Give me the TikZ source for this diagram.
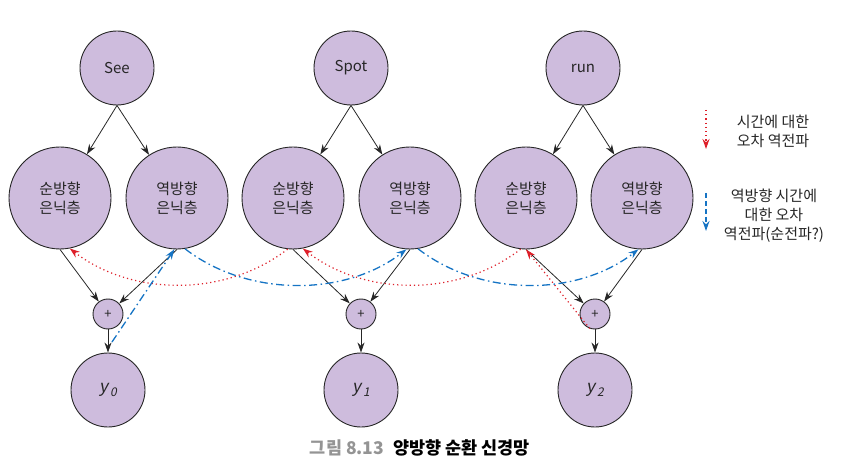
\documentclass[tikz,border=0pt]{standalone}
\usepackage{fontspec}
\setmainfont{Noto Sans CJK KR}
\newfontfamily\slfont[FakeSlant=0.2]{Noto Sans CJK KR}
\usetikzlibrary{arrows.meta}
\definecolor{cellfill}{RGB}{206,188,221}
\definecolor{errred}{RGB}{222,32,42}
\definecolor{errblue}{RGB}{22,116,196}
\newcommand{\outlabel}[1]{y\kern2.2pt\raisebox{-4pt}{\fontsize{12}{12}\selectfont #1}}
\begin{document}
\begin{tikzpicture}[x=1pt,y=-1pt,
    cell/.style={circle,draw=black!85,line width=0.9pt,fill=cellfill,inner sep=0pt,
        text=black!85,align=center,font=\fontsize{15}{19}\selectfont},
    wordcell/.style={cell,minimum size=74pt},
    hidcell/.style={cell,minimum size=102pt},
    sumcell/.style={cell,minimum size=30pt,font=\fontsize{13}{15}\selectfont},
    outcell/.style={cell,minimum size=74pt,font=\fontsize{17}{18}\selectfont\slfont},
    flow/.style={draw=black!85,line width=0.8pt,-{Stealth[length=10pt,width=7pt]}},
    backred/.style={draw=errred,line width=1.2pt,dash pattern=on 1.2pt off 3pt,
        -{Stealth[length=10pt,width=7pt]}},
    backblue/.style={draw=errblue,line width=1.3pt,dash pattern=on 8pt off 3.5pt on 1.5pt off 3.5pt,
        -{Stealth[length=10pt,width=7pt]}},
    legtext/.style={align=center,text=black!85,font=\fontsize{15}{19}\selectfont}]
    \useasboundingbox (0,0) rectangle (843,470);

    \node[wordcell] (see) at (117,68) {See};
    \node[wordcell] (spot) at (351,68) {Spot};
    \node[wordcell] (run) at (583,68) {run};

    \node[hidcell] (seefw) at (60,198) {순방향\\은닉층};
    \node[hidcell] (seebw) at (177,198) {역방향\\은닉층};
    \node[hidcell] (spotfw) at (293,198) {순방향\\은닉층};
    \node[hidcell] (spotbw) at (410,198) {역방향\\은닉층};
    \node[hidcell] (runfw) at (526,198) {순방향\\은닉층};
    \node[hidcell] (runbw) at (642,198) {역방향\\은닉층};

    \node[sumcell] (sum0) at (108,314) {+};
    \node[sumcell] (sum1) at (361,314) {+};
    \node[sumcell] (sum2) at (595,314) {+};

    \node[outcell] (y0) at (108,390) {\outlabel{0}};
    \node[outcell] (y1) at (361,390) {\outlabel{1}};
    \node[outcell] (y2) at (595,390) {\outlabel{2}};

    \foreach \w in {see,spot,run} {
        \draw[flow] (\w.south) -- (\w fw);
        \draw[flow] (\w.south) -- (\w bw);
    }
    \foreach \w/\s/\o in {see/sum0/y0,spot/sum1/y1,run/sum2/y2} {
        \draw[flow] (\w fw.south) -- (\s);
        \draw[flow] (\w bw.south) -- (\s);
        \draw[flow] (\s) -- (\o);
    }

    \draw[backred] (sum2.-110) -- (runfw.south);
    \draw[backred] (runfw.-96) .. controls +(-62,48) and +(62,48) .. (spotfw.-79);
    \draw[backred] (spotfw.-96) .. controls +(-62,48) and +(62,48) .. (seefw.-79);

    \coordinate (bluestart) at (112,342);
    \draw[backblue] (bluestart) -- (seebw.-93);
    \draw[backblue] (seebw.-81) .. controls +(62,48) and +(-62,48) .. (spotbw.-94);
    \draw[backblue] (spotbw.-81) .. controls +(62,48) and +(-62,48) .. (runbw.-94);

    \coordinate (redtop) at (706,110);
    \coordinate (redend) at (706,149);
    \coordinate (bluetop) at (706,193);
    \coordinate (blueend) at (706,231);
    \draw[backred] (redtop) -- (redend);
    \draw[backblue,dash pattern=on 5pt off 3pt] (bluetop) -- (blueend);
    \node[legtext] (redkey) at (773,131) {시간에 대한\\오차 역전파};
    \node[legtext] (bluekey) at (774,216) {역방향 시간에\\대한 오차\\역전파(순전파?)};

    \node[font=\fontsize{17.5}{19}\selectfont\bfseries] (caption) at (420,448)
        {\textcolor{black!42}{그림 8.13}\hspace{9pt}양방향 순환 신경망};
\end{tikzpicture}
\end{document}
